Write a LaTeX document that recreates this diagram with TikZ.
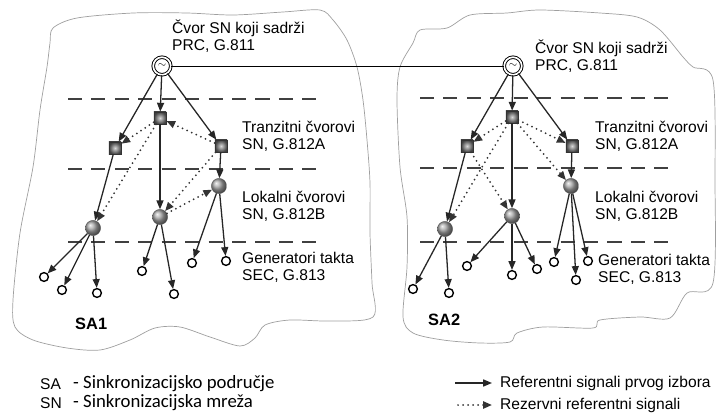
\documentclass[tikz,border=0pt]{standalone}
\usepackage{fontspec}
\setmainfont{Liberation Sans}
\newfontfamily\defsfont{Carlito}
\usetikzlibrary{arrows.meta}

\begin{document}
\begin{tikzpicture}[->,x=0.03cm,y=-0.03cm,>={Triangle[length=7.5pt,width=6pt]}]
	\tikzstyle{prc} = [circle,draw,double,line width=0.8pt,double distance=1.4pt,fill=white,minimum size=15pt,inner sep=0pt]
	\tikzstyle{tranz} = [rectangle,draw=black!80,line width=0.4pt,minimum size=10.5pt,inner sep=0pt,inner color=gray!30,outer color=black!75]
	\tikzstyle{lok} = [circle,draw=black!70,line width=0.3pt,minimum size=13pt,inner sep=0pt,ball color=gray!70]
	\tikzstyle{gen} = [circle,draw,line width=1.2pt,minimum size=7.5pt,inner sep=0pt,fill=white]
	\tikzstyle{sig} = [line width=1.1pt,black!85]
	\tikzstyle{rez} = [line width=1.7pt,dash pattern=on 0pt off 4.3pt,line cap=round,black!80]
	\tikzstyle{granica} = [-,dash pattern=on 12pt off 8pt,line width=1.7pt,black!75]
	\tikzstyle{obris} = [-,gray!75,line width=0.6pt]
	\tikzstyle{txt} = [anchor=west,align=left,inner sep=0pt,font=\fontsize{13.3}{14.5}\selectfont]
	
	\useasboundingbox (0,0) rectangle (716,416);
	
	% sinkronizacijska podrucja
	\draw[obris] plot[smooth cycle,tension=0.5] coordinates {(53,28) (77,18) (133,13) (187,13) (233,15) (283,12) (320,10) (333,20) (347,40) (357,67) (363,100) (367,140) (370,183) (370,233) (372,283) (373,317) (330,321) (290,320) (265,325) (255,338) (240,346) (210,337) (180,327) (155,328) (130,340) (100,350) (67,348) (33,340) (15,327) (13,300) (20,233) (33,167) (40,110) (47,67) (50,43)};
	\draw[obris] plot[smooth cycle,tension=0.5] coordinates {(420,30) (447,28) (470,15) (507,13) (540,10) (600,13) (637,17) (660,30) (683,57) (693,67) (713,80) (715,180) (713,283) (687,293) (670,318) (640,317) (600,320) (593,328) (543,327) (517,333) (510,342) (480,343) (443,340) (413,333) (403,317) (407,267) (407,217) (400,167) (397,100) (400,67) (413,43)};
	
	% granice nivoa
	\draw[granica] (68,99) -- (320,99);
	\draw[granica] (68,169) -- (320,169);
	\draw[granica] (68,242) -- (320,242);
	\draw[granica] (420,98) -- (673,98);
	\draw[granica] (420,168) -- (673,168);
	\draw[granica] (420,242) -- (673,242);
	
	% SA1
	\node[prc] (p1) at (162,66) {\fontsize{9}{9}\selectfont$\sim$};
	\node[tranz] (t1a) at (160,118) {};
	\node[tranz] (t2a) at (115,148) {};
	\node[tranz] (t3a) at (221,146) {};
	\node[lok] (l1a) at (93,228) {};
	\node[lok] (l2a) at (160,217) {};
	\node[lok] (l3a) at (219,186) {};
	\node[gen] (g1a) at (44,277) {};
	\node[gen] (g2a) at (62,290) {};
	\node[gen] (g3a) at (97,293) {};
	\node[gen] (g4a) at (142,271) {};
	\node[gen] (g5a) at (174,294) {};
	\node[gen] (g6a) at (192,263) {};
	\node[gen] (g7a) at (226,261) {};
	
	\path (p1) edge[sig] (t1a);
	\path (p1) edge[sig] (t2a);
	\path (p1) edge[sig] (t3a);
	\path (t1a) edge[sig] (l2a);
	\path (t2a) edge[sig] (l1a);
	\path (t3a) edge[sig] (l3a);
	\path (l1a) edge[sig] (g1a);
	\path (l1a) edge[sig] (g2a);
	\path (l1a) edge[sig] (g3a);
	\path (l2a) edge[sig] (g4a);
	\path (l2a) edge[sig] (g5a);
	\path (l3a) edge[sig] (g6a);
	\path (l3a) edge[sig] (g7a);
	
	\path (t1a) edge[rez] (t2a);
	\path (t3a) edge[rez] (t1a);
	\path (t1a) edge[rez] (l1a);
	\path (t3a) edge[rez] (l2a);
	\path (l2a) edge[rez] (l3a);
	
	% SA2
	\node[prc] (p2) at (513,66) {\fontsize{9}{9}\selectfont$\sim$};
	\node[tranz] (t1b) at (512,117) {};
	\node[tranz] (t2b) at (467,146) {};
	\node[tranz] (t3b) at (572,146) {};
	\node[lok] (l1b) at (445,229) {};
	\node[lok] (l2b) at (512,216) {};
	\node[lok] (l3b) at (571,186) {};
	\node[gen] (g1b) at (413,289) {};
	\node[gen] (g2b) at (449,293) {};
	\node[gen] (g3b) at (467,266) {};
	\node[gen] (g4b) at (512,275) {};
	\node[gen] (g5b) at (537,269) {};
	\node[gen] (g6b) at (554,262) {};
	\node[gen] (g7b) at (576,280) {};
	\node[gen] (g8b) at (588,261) {};
	
	\path (p2) edge[sig] (t1b);
	\path (p2) edge[sig] (t2b);
	\path (p2) edge[sig] (t3b);
	\path (t1b) edge[sig] (l2b);
	\path (t2b) edge[sig] (l1b);
	\path (t3b) edge[sig] (l3b);
	\path (l1b) edge[sig] (g1b);
	\path (l1b) edge[sig] (g2b);
	\path (l2b) edge[sig] (g3b);
	\path (l2b) edge[sig] (g4b);
	\path (l2b) edge[sig] (g5b);
	\path (l3b) edge[sig] (g6b);
	\path (l3b) edge[sig] (g7b);
	\path (l3b) edge[sig] (g8b);
	
	\path (t1b) edge[rez] (t2b);
	\path (t1b) edge[rez] (t3b);
	\path (t1b) edge[rez] (l3b);
	\path (t1b) edge[rez] (l1b);
	\path (t2b) edge[rez] (l2b);
	
	\draw[-,line width=0.6pt] (p1) -- (p2);
	
	% oznake nivoa
	\node[txt] (n1a) at (172,36.5) {Čvor SN koji sadrži\\PRC, G.811};
	\node[txt] (n2a) at (242,136) {Tranzitni čvorovi\\SN, G.812A};
	\node[txt] (n3a) at (242,206.5) {Lokalni čvorovi\\SN, G.812B};
	\node[txt] (n4a) at (242,267.5) {Generatori takta\\SEC, G.813};
	\node[txt] (n1b) at (535,56) {Čvor SN koji sadrži\\PRC, G.811};
	\node[txt] (n2b) at (595,136) {Tranzitni čvorovi\\SN, G.812A};
	\node[txt] (n3b) at (595,206.5) {Lokalni čvorovi\\SN, G.812B};
	\node[txt] (n4b) at (598,269) {Generatori takta\\SEC, G.813};
	\node[txt,font=\bfseries\fontsize{14}{15}\selectfont] (sa1) at (75,324) {SA1};
	\node[txt,font=\bfseries\fontsize{14}{15}\selectfont] (sa2) at (428,320) {SA2};
	
	% legenda
	\node[txt] (ksa) at (40,384) {SA};
	\node[txt,font=\defsfont\fontsize{16}{18}\selectfont] (osa) at (73,384) {- Sinkronizacijsko područje};
	\node[txt] (ksn) at (40,403) {SN};
	\node[txt,font=\defsfont\fontsize{16}{18}\selectfont] (osn) at (73,403) {- Sinkronizacijska mreža};
	\coordinate (lp1) at (455,383);
	\coordinate (lk1) at (492,383);
	\coordinate (lp2) at (458,405);
	\coordinate (lk2) at (492,405);
	\path (lp1) edge[sig] (lk1);
	\path (lp2) edge[rez] (lk2);
	\node[txt] (lt1) at (500,383) {Referentni signali prvog izbora};
	\node[txt] (lt2) at (500,405) {Rezervni referentni signali};
\end{tikzpicture}
\end{document}
